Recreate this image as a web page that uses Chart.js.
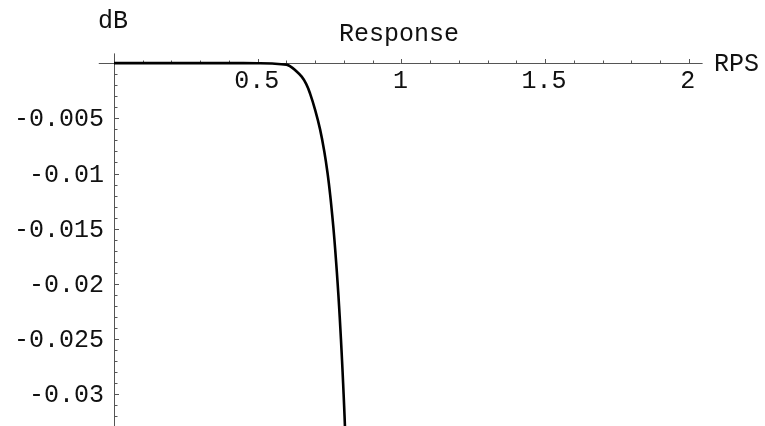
<!DOCTYPE html>
<html>
<head>
<meta charset="utf-8">
<script src="https://cdn.jsdelivr.net/npm/chart.js@4/dist/chart.umd.min.js"></script>
<style>
  html, body { margin: 0; padding: 0; background: #fff; }
  #wrap { width: 765px; height: 426px; }
</style>
</head>
<body>
<div id="wrap"><canvas id="c" width="765" height="426"></canvas></div>
<script>
// Filter magnitude response near the passband edge (frequency in RPS, level in dB)
const freq = [0, 0.1, 0.2, 0.3, 0.4, 0.5, 0.55, 0.6, 0.612, 0.630, 0.653, 0.669, 0.682, 0.700, 0.717,
              0.7317, 0.7432, 0.7524, 0.7601, 0.7669, 0.7728, 0.7782, 0.7831, 0.7875, 0.7916, 0.7954, 0.7989, 0.8022, 0.8051];
const gainDb = [0, 0, 0, 0, 0, -0.00001, -0.00004, -0.00014, -0.00027, -0.00063, -0.00123, -0.0019, -0.00274, -0.00425, -0.0060,
                -0.0080, -0.0100, -0.0120, -0.0140, -0.0160, -0.0180, -0.0200, -0.0220, -0.0240, -0.0260, -0.0280, -0.0300, -0.0320, -0.0340];

// Axis ticks
const xTickValues = [0.5, 1, 1.5, 2];
const xTickLabels = ['0.5', '1', '1.5', '2'];
const yTickValues = [-0.005, -0.01, -0.015, -0.02, -0.025, -0.03];
const yTickLabels = ['-0.005', '-0.01', '-0.015', '-0.02', '-0.025', '-0.03'];
const xMinorStep = 0.1, xMinorMax = 2.0;
const yMinorStep = 0.001, yMinorMin = -0.032;

const titleText = 'Response';
const xAxisName = 'RPS';
const yAxisName = 'dB';

const FONT = '25px "Liberation Mono", "Courier New", monospace';
const AXIS_COLOR = '#555';
const TEXT_COLOR = '#111';

const axesPlugin = {
  id: 'crossAxes',
  beforeDatasetsDraw(chart) {
    const ctx = chart.ctx;
    const xs = chart.scales.x, ys = chart.scales.y;
    const x0 = xs.getPixelForValue(0);
    const y0 = ys.getPixelForValue(0);
    ctx.save();
    ctx.strokeStyle = AXIS_COLOR;
    ctx.lineWidth = 1;
    // axis lines crossing at the origin
    ctx.beginPath();
    ctx.moveTo(xs.getPixelForValue(-0.053), Math.round(y0) + 0.5);
    ctx.lineTo(xs.getPixelForValue(2.048), Math.round(y0) + 0.5);
    ctx.moveTo(Math.round(x0) + 0.5, ys.getPixelForValue(0.00088));
    ctx.lineTo(Math.round(x0) + 0.5, chart.height);
    ctx.stroke();
    // x ticks (pointing up)
    ctx.beginPath();
    for (let i = 1; i * xMinorStep <= xMinorMax + 1e-9; i++) {
      const v = i * xMinorStep;
      const major = xTickValues.some(t => Math.abs(t - v) < 1e-9);
      const px = Math.round(xs.getPixelForValue(v)) + 0.5;
      ctx.moveTo(px, Math.round(y0));
      ctx.lineTo(px, Math.round(y0) - (major ? 4 : 2.5));
    }
    // y ticks (pointing right)
    for (let i = 1; -i * yMinorStep >= yMinorMin - 1e-12; i++) {
      const v = -i * yMinorStep;
      const major = yTickValues.some(t => Math.abs(t - v) < 1e-12);
      const py = Math.round(ys.getPixelForValue(v)) + 0.5;
      ctx.moveTo(Math.round(x0) + 1, py);
      ctx.lineTo(Math.round(x0) + 1 + (major ? 4 : 2.5), py);
    }
    ctx.stroke();

    // labels
    ctx.fillStyle = TEXT_COLOR;
    ctx.font = FONT;
    ctx.textBaseline = 'alphabetic';
    ctx.textAlign = 'center';
    xTickValues.forEach((v, i) => {
      ctx.fillText(xTickLabels[i], xs.getPixelForValue(v) - 1, y0 + 25);
    });
    ctx.textAlign = 'right';
    yTickValues.forEach((v, i) => {
      ctx.fillText(yTickLabels[i], x0 - 10, ys.getPixelForValue(v) + 8);
    });
    ctx.textAlign = 'center';
    ctx.fillText(yAxisName, x0 - 1, 28);
    ctx.fillText(titleText, 399, 41);
    ctx.textAlign = 'left';
    ctx.fillText(xAxisName, 714, y0 + 8);
    ctx.restore();
  }
};

new Chart(document.getElementById('c'), {
  type: 'line',
  data: {
    datasets: [{
      data: freq.map((f, i) => ({ x: f, y: gainDb[i] })),
      borderColor: '#000',
      borderWidth: 2.6,
      pointRadius: 0,
      fill: false,
      tension: 0.4
    }]
  },
  options: {
    responsive: false,
    animation: false,
    events: [],
    layout: { padding: 0 },
    plugins: { legend: { display: false }, tooltip: { enabled: false }, title: { display: false } },
    scales: {
      x: { type: 'linear', display: false, min: -0.3967, max: 2.2651 },
      y: { type: 'linear', display: false, min: -0.03287, max: 0.005716 }
    }
  },
  plugins: [axesPlugin]
});
</script>
</body>
</html>
